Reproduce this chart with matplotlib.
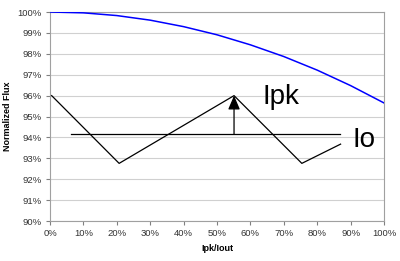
import matplotlib
matplotlib.use("Agg")
import matplotlib.pyplot as plt
from matplotlib.ticker import FuncFormatter

plt.rcParams['font.family'] = ['Liberation Sans', 'DejaVu Sans']

# Data (percent)
ratio = [0, 10, 20, 30, 40, 50, 60, 70, 80, 90, 100]
flux = [100.0, 99.96, 99.83, 99.61, 99.30, 98.91, 98.43, 97.87, 97.22, 96.48, 95.65]

# Ripple sketch annotation (data coords)
wave_x = [0.5, 20.7, 55.1, 75.4, 87.0]
wave_y = [96.0, 92.76, 96.0, 92.76, 93.68]
io_x = [6.2, 86.8]
io_level = 94.15
ipk_x = 55.1
ipk_level = 96.0

xticks = list(range(0, 101, 10))
yticks = list(range(90, 101, 1))

fig = plt.figure(figsize=(4.0, 2.61), dpi=100)
ax = fig.add_axes([0.125, 0.153, 0.835, 0.801])

ax.plot(ratio, flux, color='#0000FF', lw=1.1, zorder=3)

ax.plot(wave_x, wave_y, color='black', lw=0.9, zorder=4)
ax.plot(io_x, [io_level, io_level], color='black', lw=0.9, zorder=4)
ax.annotate('', xy=(ipk_x, ipk_level), xytext=(ipk_x, io_level),
            arrowprops=dict(arrowstyle='-|>,head_length=0.7,head_width=0.3', color='black', lw=0.9,
                            mutation_scale=12, shrinkA=0, shrinkB=0), zorder=5)
ax.text(63.6, 95.6, 'Ipk', fontsize=20, va='baseline', ha='left', color='black')
ax.text(90.6, 93.56, 'Io', fontsize=20, va='baseline', ha='left', color='black')

ax.set_xlim(0, 100)
ax.set_ylim(90, 100)
ax.set_xticks(xticks)
ax.set_yticks(yticks)
ax.xaxis.set_major_formatter(FuncFormatter(lambda v, p: f"{v:.0f}%"))
ax.yaxis.set_major_formatter(FuncFormatter(lambda v, p: f"{v:.0f}%"))
ax.tick_params(axis='both', labelsize=6.8, colors='#808080', labelcolor='#333333',
               length=3, width=0.8, direction='out', pad=3)
ax.grid(axis='y', color='#D0D0D0', lw=0.8)
ax.set_axisbelow(True)
for s in ax.spines.values():
    s.set_color('#A0A0A0')
    s.set_linewidth(0.8)

ax.set_xlabel('Ipk/Iout', fontsize=6.5, fontweight='bold', labelpad=4)
ax.set_ylabel('Normalized Flux', fontsize=6.5, fontweight='bold', labelpad=4)

fig.savefig('out.png', dpi=100)
